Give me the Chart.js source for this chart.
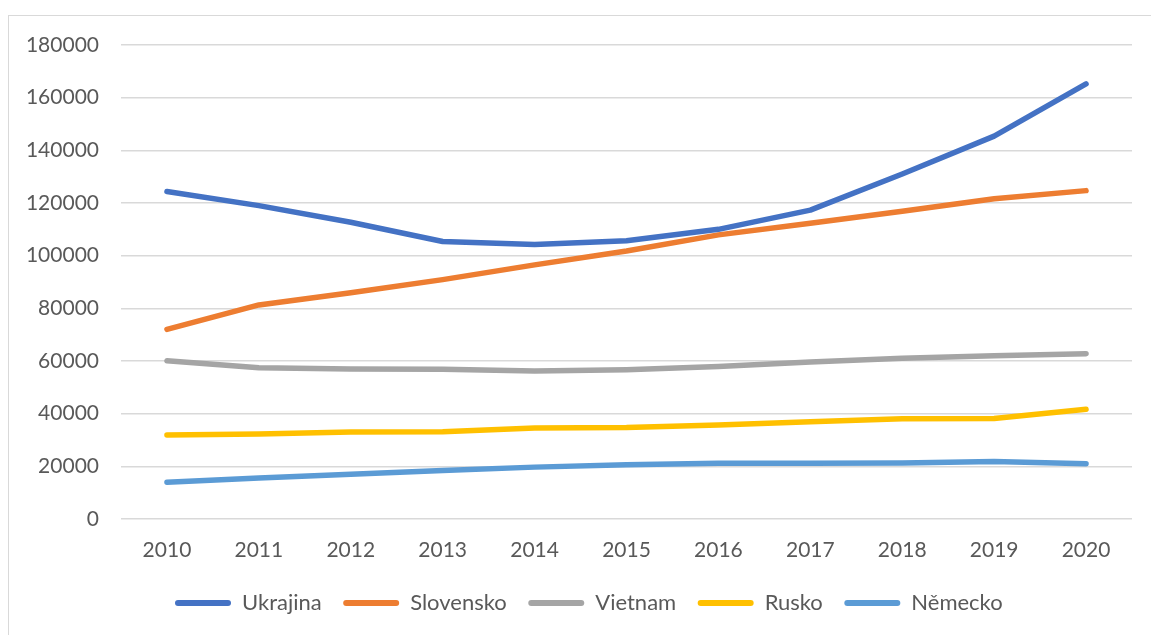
<!DOCTYPE html>
<html>
<head>
<meta charset="utf-8">
<script src="https://cdn.jsdelivr.net/npm/chart.js@4/dist/chart.umd.min.js"></script>
<style>
  html, body { margin: 0; padding: 0; background: #ffffff; overflow: hidden; }
  #frame { position: absolute; left: 8px; top: 15px; width: 1300px; height: 800px; border: 1px solid #d9d9d9; box-sizing: border-box; }
  #wrap { position: absolute; left: 0; top: 0; width: 1151px; height: 635px; }
</style>
</head>
<body>
<div id="frame"></div>
<div id="wrap"><canvas id="c"></canvas></div>
<script>
const years = ['2010','2011','2012','2013','2014','2015','2016','2017','2018','2019','2020'];
const ukrajina  = [124400, 119000, 112700, 105400, 104200, 105700, 110000, 117300, 131000, 145400, 165200];
const slovensko = [72000, 81300, 85900, 90900, 96500, 101800, 107900, 112300, 116900, 121600, 124700];
const vietnam   = [60100, 57400, 57000, 56900, 56200, 56700, 57900, 59600, 61000, 62000, 62800];
const rusko     = [31900, 32300, 33000, 33100, 34600, 34700, 35700, 36900, 38100, 38200, 41700];
const nemecko   = [14000, 15600, 17000, 18400, 19700, 20600, 21200, 21200, 21300, 21800, 21000];
const seriesNames = ['Ukrajina', 'Slovensko', 'Vietnam', 'Rusko', 'Německo'];
const seriesColors = ['#4472C4', '#ED7D31', '#A5A5A5', '#FFC000', '#5B9BD5'];
const seriesData = [ukrajina, slovensko, vietnam, rusko, nemecko];

const FONT = 'Lato, "Liberation Sans", sans-serif';
const TEXT = '#595959';
const LEG_PAD = 21.5;
const LEG_FONT = 22;

const legendPlace = {
  id: 'legendPlace',
  afterLayout(chart) {
    const lg = chart.legend;
    if (!lg) return;
    const h = lg.height;
    lg.left = 175 - LEG_PAD;
    lg.right = 1151;
    lg.top = 603 - LEG_PAD - LEG_FONT / 2;
    lg.bottom = lg.top + h + LEG_PAD;
  }
};

new Chart(document.getElementById('c'), {
  type: 'line',
  data: {
    labels: years,
    datasets: seriesNames.map((n, i) => ({
      label: n,
      data: seriesData[i],
      borderColor: seriesColors[i],
      backgroundColor: seriesColors[i],
      borderWidth: 5.5,
      borderCapStyle: 'round',
      borderJoinStyle: 'round',
      pointRadius: 0,
      pointHoverRadius: 0,
      tension: 0,
      fill: false
    }))
  },
  options: {
    responsive: true,
    maintainAspectRatio: false,
    animation: false,
    layout: { padding: { left: 0, right: 19, top: 45, bottom: 0 } },
    plugins: {
      tooltip: { enabled: false },
      legend: {
        position: 'bottom',
        align: 'start',
        labels: {
          font: { family: FONT, size: LEG_FONT },
          color: TEXT,
          boxWidth: 56,
          boxHeight: 6,
          padding: LEG_PAD,
          useBorderRadius: true,
          borderRadius: 3,
          generateLabels(chart) {
            return Chart.defaults.plugins.legend.labels.generateLabels(chart).map(it => Object.assign(it, { lineWidth: 0, borderRadius: 3 }));
          }
        }
      }
    },
    scales: {
      x: {
        offset: true,
        grid: { display: false, drawTicks: false },
        border: { display: false },
        ticks: { font: { family: FONT, size: 21 }, color: TEXT, padding: 19, maxRotation: 0 },
        afterFit(s) { s.height = 116 - (LEG_PAD + LEG_FONT + 10); }
      },
      y: {
        min: 0,
        max: 180000,
        grid: { color: '#d9d9d9', lineWidth: 1.5, drawTicks: false },
        border: { display: false },
        ticks: {
          stepSize: 20000,
          font: { family: FONT, size: 21 },
          color: TEXT,
          padding: 22,
          callback: v => String(v)
        },
        afterFit(s) { s.width = 121; }
      }
    }
  },
  plugins: [legendPlace]
});
</script>
</body>
</html>
